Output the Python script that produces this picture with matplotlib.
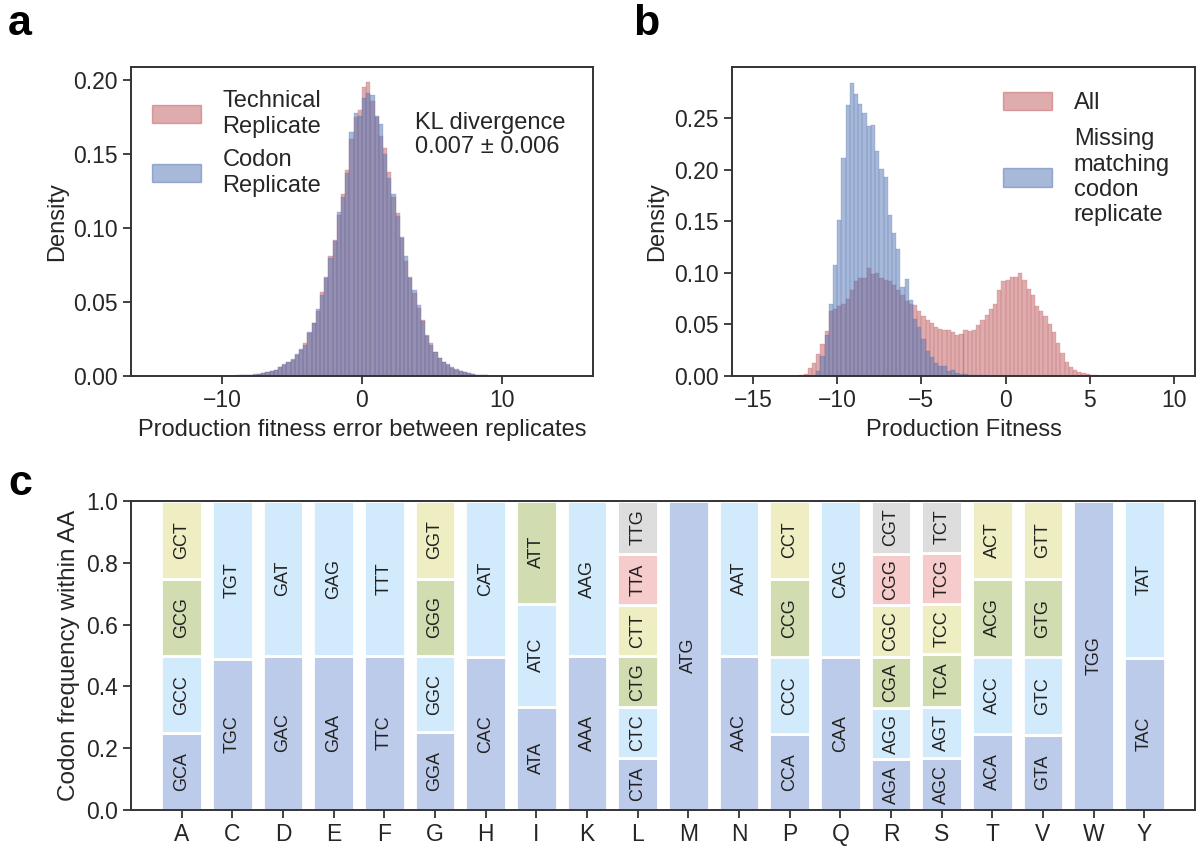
import numpy as np
import matplotlib.pyplot as plt
from matplotlib.patches import Patch

plt.rcParams['font.family'] = ['Liberation Sans', 'DejaVu Sans']
plt.rcParams['font.size'] = 17
plt.rcParams['text.color'] = '#262626'
plt.rcParams['axes.labelcolor'] = '#262626'
plt.rcParams['axes.edgecolor'] = '#333333'
plt.rcParams['axes.linewidth'] = 1.4
plt.rcParams['xtick.color'] = '#333333'
plt.rcParams['ytick.color'] = '#333333'
plt.rcParams['xtick.labelcolor'] = '#262626'
plt.rcParams['ytick.labelcolor'] = '#262626'
plt.rcParams['xtick.labelsize'] = 16.5
plt.rcParams['ytick.labelsize'] = 16.5
plt.rcParams['xtick.major.size'] = 6
plt.rcParams['ytick.major.size'] = 6
plt.rcParams['xtick.major.width'] = 1.3
plt.rcParams['ytick.major.width'] = 1.3

# ---- panel a: replicate error histograms (100 bins on [-15, 15]) ----
err_range = (-15, 15)
err_first_bin = 19
tech_density = [
    .0002, .0003, .0004, .0006, .0008, .0010, .0014, .0018, .0027, .0034,
    .0040, .0063, .0074, .0097, .0108, .0142, .0176, .0220, .0290, .0360,
    .0440, .0570, .0660, .0810, .0920, .1090, .1230, .1390, .1600, .1750,
    .1800, .1950, .1990, .1860, .1750, .1620, .1540, .1380, .1210, .1100,
    .0930, .0780, .0670, .0560, .0460, .0380, .0270, .0220, .0160, .0120,
    .0097, .0074, .0055, .0042, .0032, .0024, .0018, .0013, .0009, .0006,
    .0004, .0002]
codon_density = [
    .0003, .0004, .0005, .0007, .0009, .0011, .0015, .0019, .0028, .0036,
    .0042, .0061, .0078, .0095, .0112, .0146, .0180, .0210, .0300, .0360,
    .0450, .0550, .0670, .0800, .0910, .1110, .1210, .1370, .1650, .1780,
    .1760, .1880, .1910, .1900, .1760, .1700, .1500, .1340, .1230, .1080,
    .0940, .0810, .0660, .0580, .0480, .0370, .0280, .0210, .0160, .0120,
    .0095, .0078, .0058, .0044, .0033, .0025, .0019, .0014, .0010, .0007,
    .0005, .0003]

# ---- panel b: production fitness histograms (100 bins on [-15, 10]) ----
fit_range = (-15, 10)
all_first_bin = 11
all_density = [
    .0005, .002, .008, .013, .021, .031, .044, .063, .065, .068,
    .070, .075, .083, .092, .095, .095, .105, .099, .100, .095,
    .093, .092, .088, .083, .078, .073, .070, .069, .063, .058,
    .054, .051, .047, .046, .045, .045, .043, .040, .041, .045,
    .044, .045, .049, .054, .059, .065, .070, .083, .092, .093,
    .096, .096, .100, .093, .084, .078, .068, .063, .058, .050,
    .043, .032, .022, .014, .009, .006, .004, .0028, .0018, .0012,
    .0006, .0003]
missing_first_bin = 14
missing_density = [
    .001, .005, .019, .040, .070, .108, .151, .211, .263, .284,
    .273, .264, .255, .242, .243, .218, .201, .193, .156, .139,
    .123, .086, .094, .074, .055, .047, .036, .024, .018, .013,
    .010, .010, .005, .006, .003, .002, .002, .001, .001, .001,
    .0005, .0005, .0003]

# ---- panel c: codon usage ----
aa_labels = ['A', 'C', 'D', 'E', 'F', 'G', 'H', 'I', 'K', 'L',
             'M', 'N', 'P', 'Q', 'R', 'S', 'T', 'V', 'W', 'Y']
codons = [
    ['GCA', 'GCC', 'GCG', 'GCT'], ['TGC', 'TGT'], ['GAC', 'GAT'],
    ['GAA', 'GAG'], ['TTC', 'TTT'], ['GGA', 'GGC', 'GGG', 'GGT'],
    ['CAC', 'CAT'], ['ATA', 'ATC', 'ATT'], ['AAA', 'AAG'],
    ['CTA', 'CTC', 'CTG', 'CTT', 'TTA', 'TTG'], ['ATG'], ['AAC', 'AAT'],
    ['CCA', 'CCC', 'CCG', 'CCT'], ['CAA', 'CAG'],
    ['AGA', 'AGG', 'CGA', 'CGC', 'CGG', 'CGT'],
    ['AGC', 'AGT', 'TCA', 'TCC', 'TCG', 'TCT'],
    ['ACA', 'ACC', 'ACG', 'ACT'], ['GTA', 'GTC', 'GTG', 'GTT'],
    ['TGG'], ['TAC', 'TAT']]
codon_freq = [
    [.248, .250, .248, .254], [.488, .512], [.498, .502],
    [.497, .503], [.500, .500], [.251, .247, .251, .251],
    [.494, .506], [.334, .334, .332], [.497, .503],
    [.167, .165, .166, .164, .168, .170], [1.0], [.499, .501],
    [.246, .250, .253, .251], [.496, .504],
    [.164, .167, .163, .168, .166, .172],
    [.167, .167, .170, .164, .165, .167],
    [.246, .250, .252, .252], [.242, .254, .250, .254],
    [1.0], [.492, .508]]
seg_colors = ['#bccbe9', '#d2ebfc', '#d1ddb0', '#efeec3', '#f6cbcb', '#dddddd']

red = '#c05a5e'
blue = '#5073b3'

W, H = 1198, 848
fig = plt.figure(figsize=(W / 100, H / 100), dpi=100)
ax_a = fig.add_axes([131 / W, 1 - 376 / H, (593 - 131) / W, (376 - 67) / H])
ax_b = fig.add_axes([732 / W, 1 - 376 / H, (1195 - 732) / W, (376 - 67) / H])
ax_c = fig.add_axes([131 / W, 1 - 810 / H, (1195 - 131) / W, (810 - 501) / H])


def draw_hist(ax, rng, first, dens, color):
    edges = np.linspace(rng[0], rng[1], 101)
    lefts = edges[first:first + len(dens)]
    ax.bar(lefts, dens, width=edges[1] - edges[0], align='edge',
           color=color, alpha=0.5, edgecolor=color, linewidth=0.3)


# panel a
draw_hist(ax_a, err_range, err_first_bin, tech_density, red)
draw_hist(ax_a, err_range, err_first_bin, codon_density, blue)
ax_a.set_xlim(-16.5, 16.5)
ax_a.set_ylim(0, 0.2088)
ax_a.set_xticks([-10, 0, 10])
ax_a.set_yticks([0, 0.05, 0.10, 0.15, 0.20])
ax_a.set_yticklabels(['0.00', '0.05', '0.10', '0.15', '0.20'])
ax_a.set_xlabel('Production fitness error between replicates', labelpad=5)
ax_a.set_ylabel('Density')
ax_a.legend(handles=[Patch(color=red, alpha=0.5, label='Technical\nReplicate'),
                     Patch(color=blue, alpha=0.5, label='Codon\nReplicate')],
            loc='upper left', bbox_to_anchor=(0.045, 0.925), frameon=False,
            handlelength=2.1, handleheight=0.8, handletextpad=0.9,
            labelspacing=0.5, borderaxespad=0, borderpad=0, fontsize=17)
ax_a.text(0.615, 0.855, 'KL divergence\n0.007 ± 0.006', transform=ax_a.transAxes,
          va='top', ha='left', fontsize=17, linespacing=1.1)

# panel b
draw_hist(ax_b, fit_range, all_first_bin, all_density, red)
draw_hist(ax_b, fit_range, missing_first_bin, missing_density, blue)
ax_b.set_xlim(-16.25, 11.25)
ax_b.set_ylim(0, 0.2994)
ax_b.set_xticks([-15, -10, -5, 0, 5, 10])
ax_b.set_yticks([0, 0.05, 0.10, 0.15, 0.20, 0.25])
ax_b.set_yticklabels(['0.00', '0.05', '0.10', '0.15', '0.20', '0.25'])
ax_b.set_xlabel('Production Fitness', labelpad=5)
ax_b.set_ylabel('Density')
ax_b.legend(handles=[Patch(color=red, alpha=0.5, label='All'),
                     Patch(color=blue, alpha=0.5,
                           label='Missing\nmatching\ncodon\nreplicate')],
            loc='upper left', bbox_to_anchor=(0.585, 0.92), frameon=False,
            handlelength=2.1, handleheight=0.8, handletextpad=0.9,
            labelspacing=0.6, borderaxespad=0, borderpad=0, fontsize=17)

# panel c
for i, (cods, fr) in enumerate(zip(codons, codon_freq)):
    bottom = 0.0
    for j, (cod, f) in enumerate(zip(cods, fr)):
        ax_c.bar(i, f, bottom=bottom, width=0.8, color=seg_colors[j],
                 edgecolor='white', linewidth=2)
        ax_c.text(i, bottom + f / 2, cod, rotation=90, ha='center', va='center',
                  fontsize=13, color='#222222')
        bottom += f
ax_c.set_xlim(-1, 20)
ax_c.set_ylim(0, 1)
ax_c.set_xticks(range(len(aa_labels)))
ax_c.set_xticklabels(aa_labels)
ax_c.set_yticks([0, 0.2, 0.4, 0.6, 0.8, 1.0])
ax_c.set_yticklabels(['0.0', '0.2', '0.4', '0.6', '0.8', '1.0'])
ax_c.set_ylabel('Codon frequency within AA', fontsize=17.5)

for ax in (ax_a, ax_b, ax_c):
    ax.tick_params(direction='out', top=False, right=False)

fig.text(8 / W, 1 - 35 / H, 'a', fontsize=31, fontweight='bold', color='black')
fig.text(633 / W, 1 - 35 / H, 'b', fontsize=31, fontweight='bold', color='black')
fig.text(8 / W, 1 - 495 / H, 'c', fontsize=31, fontweight='bold', color='black')

fig.savefig('out.png', dpi=100)
